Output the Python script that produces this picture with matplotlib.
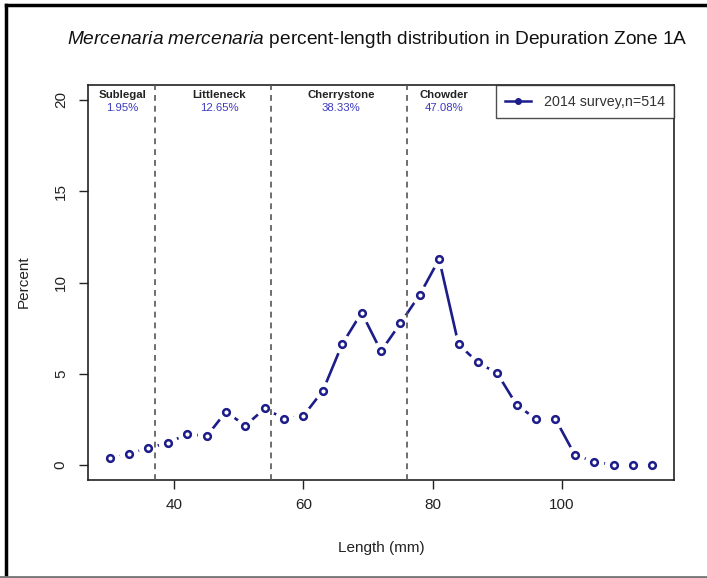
import matplotlib
matplotlib.use("Agg")
import matplotlib.pyplot as plt
from matplotlib.lines import Line2D

plt.rcParams['font.family'] = ['Liberation Sans', 'DejaVu Sans']
plt.rcParams['mathtext.fontset'] = 'custom'
plt.rcParams['mathtext.it'] = 'Liberation Sans:italic'
plt.rcParams['mathtext.rm'] = 'Liberation Sans'

# ---- data ----
lengths = [30, 33, 36, 39, 42, 45, 48, 51, 54, 57, 60, 63, 66, 69, 72, 75, 78,
           81, 84, 87, 90, 93, 96, 99, 102, 105, 108, 111, 114]
percent = [0.37, 0.59, 0.95, 1.19, 1.71, 1.57, 2.92, 2.15, 3.10, 2.54, 2.70, 4.07,
           6.63, 8.35, 6.24, 7.76, 9.33, 11.28, 6.61, 5.62, 5.02, 3.29, 2.52, 2.52,
           0.56, 0.18, 0.0, 0.0, 0.0]
class_bounds = [37, 55, 76]
class_names = ["Sublegal", "Littleneck", "Cherrystone", "Chowder"]
class_pcts = ["1.95%", "12.65%", "38.33%", "47.08%"]
class_label_x = [32.0, 47.0, 65.85, 81.8]
legend_label = "2014 survey,n=514"
xticks = [40, 60, 80, 100]
yticks = [0, 5, 10, 15, 20]

line_col = "#1c1c8a"
pct_col = "#3a3ac0"

fig = plt.figure(figsize=(7.07, 5.78), dpi=100)
ax = fig.add_axes([88/707, 1-479.6/578, (674-88)/707, (479.6-85.4)/578])

# connecting lines (R type="b": gaps around points)
ax.plot(lengths, percent, color=line_col, lw=1.9, zorder=2, solid_capstyle='butt')
ax.plot(lengths, percent, linestyle='none', marker='o', markersize=13,
        markerfacecolor='white', markeredgecolor='white', zorder=3)
for b in class_bounds:
    ax.axvline(b, color='#555555', lw=1.2, ls=(0, (3.5, 3)), zorder=4)
ax.plot(lengths, percent, linestyle='none', marker='o', markersize=4.8,
        markerfacecolor='white', markeredgecolor=line_col, markeredgewidth=1.8,
        zorder=5)

for name, pct, xl in zip(class_names, class_pcts, class_label_x):
    ax.text(xl, 20.3, name, ha='center', va='center', fontsize=8.2,
            fontweight='bold', color='#222222', zorder=6)
    ax.text(xl, 19.55, pct, ha='center', va='center', fontsize=8.2,
            color=pct_col, zorder=6)

ax.set_xlim(26.64, 117.36)
ax.set_ylim(-0.8, 20.8)
ax.set_xticks(xticks)
ax.set_yticks(yticks)
ax.tick_params(axis='both', direction='out', length=6.5, width=1.0,
               labelsize=11, colors='#222222')
ax.tick_params(axis='x', pad=7)
ax.tick_params(axis='y', pad=8)
for lab in ax.get_yticklabels():
    lab.set_rotation(90)
    lab.set_va('center')
for sp in ax.spines.values():
    sp.set_linewidth(1.2)
    sp.set_color('#222222')

handle = Line2D([0], [0], color=line_col, lw=1.8, marker='o', markersize=4,
                markerfacecolor=line_col, markeredgecolor=line_col)
leg = ax.legend([handle], [legend_label], loc='upper right', fontsize=10.3,
                frameon=True, fancybox=False, borderaxespad=0,
                handlelength=1.8, handletextpad=0.9, borderpad=0.65,
                labelcolor='#333333')
leg.get_frame().set_edgecolor('#222222')
leg.get_frame().set_linewidth(1.0)

fig.text(377/707, 1-40/578,
         r"$\it{Mercenaria\ mercenaria}$ percent-length distribution in Depuration Zone 1A",
         ha='center', va='center', fontsize=13.8, color='#111111')
fig.text(381/707, 1-548/578, "Length (mm)", ha='center', va='center',
         fontsize=11, color='#222222')
fig.text(24/707, 1-282/578, "Percent", ha='center', va='center', rotation=90,
         fontsize=11, color='#222222')

# screenshot border
fig.add_artist(Line2D([6/707, 6/707], [0, 1-5/578], color='black', lw=2.5,
                      transform=fig.transFigure))
fig.add_artist(Line2D([6/707, 1], [1-5/578, 1-5/578], color='black', lw=2.5,
                      transform=fig.transFigure))
fig.add_artist(Line2D([0, 1], [1-576.5/578, 1-576.5/578], color='#777777', lw=2,
                      transform=fig.transFigure))

fig.savefig("out.png", dpi=100)
